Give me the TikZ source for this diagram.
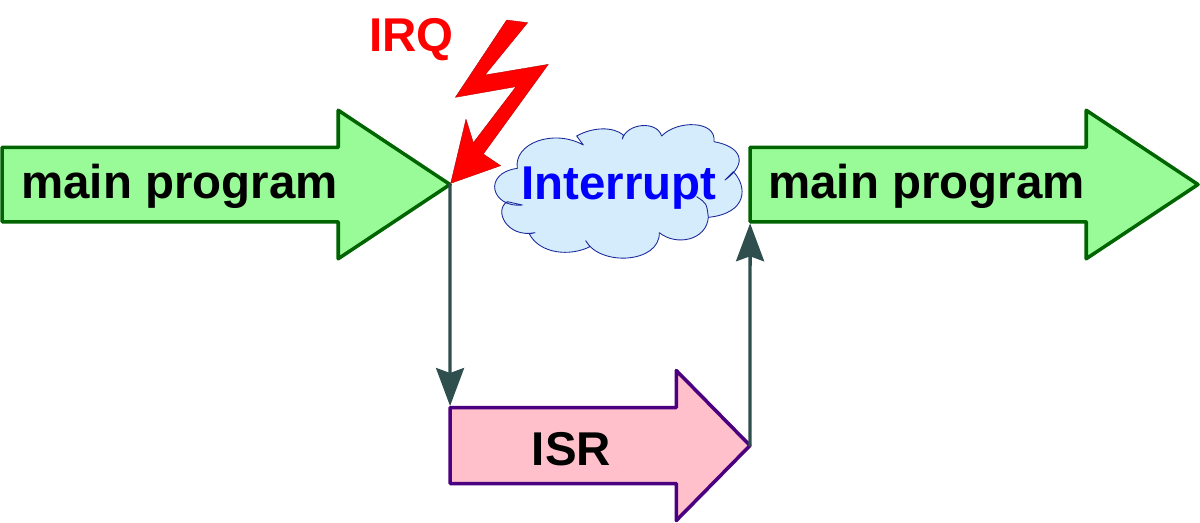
\documentclass[tikz,border=0pt]{standalone}
\usepackage{fontspec}
\setmainfont{Liberation Sans}
\usetikzlibrary{shapes.arrows,arrows.meta}
\definecolor{progfill}{HTML}{98FB98}
\definecolor{progline}{HTML}{006400}
\definecolor{isrfill}{HTML}{FFC0CB}
\definecolor{isrline}{HTML}{4B0082}
\definecolor{flowline}{HTML}{2F4F4F}
\definecolor{cloudfill}{HTML}{D5ECFC}
\definecolor{cloudline}{HTML}{1A2A9A}
\begin{document}
\begin{tikzpicture}[x=0.02cm,y=-0.02cm,line cap=round,line join=round,
    bigarrow/.style={single arrow,shape border rotate=0,inner sep=0pt,outer sep=0pt,line width=2pt,anchor=tip,text depth=0pt},
    progarrow/.style={bigarrow,draw=progline,fill=progfill,minimum height=8.96cm,text height=1.42cm,
      single arrow head extend=0.74cm,single arrow tip angle=67.2},
    israrrow/.style={bigarrow,draw=isrline,fill=isrfill,minimum height=6cm,text height=1.45cm,
      single arrow head extend=0.74cm,single arrow tip angle=91},
    flow/.style={draw=flowline,line width=1.9pt,shorten >=0.03cm,-{Stealth[length=0.76cm,width=0.56cm,inset=0.1cm]}},
    lbl/.style={font=\bfseries\fontsize{27}{30}\selectfont,inner sep=0pt}]
    \useasboundingbox (0,0) rectangle (1200,522);
    % arrows
    \node[progarrow] (prog1) at (450,184.5) {};
    \node[progarrow] (prog2) at (1198,184.5) {};
    \node[israrrow] (isr) at (750,445.5) {};
    \draw[flow] (prog1.tip) -- (isr.after tail);
    \draw[flow] (isr.tip) -- (prog2.before tail);
    % bolt and cloud
    \begin{scope}[shift={(360,0)},scale=0.33333]
      \fill[red,draw=red!70!black,line width=0.2pt]
        (440,60) -- (503,68) -- (375,225) -- (565,193) -- (370,462) -- (422,497)
        -- (272,550) -- (318,357) -- (340,428) -- (468,260) -- (286,292) -- cycle;
      \draw[fill=cloudfill,draw=cloudline,line width=0.5pt]
        (472,505) .. controls (460,430) and (580,385) .. (670,435)
        -- (650,408) .. controls (700,380) and (760,380) .. (790,405)
        -- (787,417) .. controls (800,370) and (890,360) .. (905,408)
        .. controls (950,360) and (1070,360) .. (1062,425)
        .. controls (1145,440) and (1165,490) .. (1095,540)
        -- (1120,515) .. controls (1163,560) and (1163,640) .. (1045,652)
        .. controls (1040,720) and (950,740) .. (898,698)
        .. controls (900,790) and (720,800) .. (677,722)
        -- (690,740) .. controls (630,770) and (540,762) .. (508,702)
        -- (525,698) .. controls (440,715) and (400,630) .. (442,605)
        -- (487,615) .. controls (395,625) and (365,520) .. (472,505) -- cycle;
      \draw[draw=cloudline,line width=0.5pt] (1010,590) .. controls (1040,610) .. (1045,652);
    \end{scope}
    % labels
    \node[lbl] (main1) at (179.5,186) {main program};
    \node[lbl] (main2) at (926.5,186) {main program};
    \node[lbl] (isrtext) at (571.5,449) {ISR};
    \node[lbl,text=red] (irq) at (411.5,40) {IRQ};
    \node[lbl,text=blue] (intr) at (619,188) {Interrupt};
  \end{tikzpicture}
\end{document}
